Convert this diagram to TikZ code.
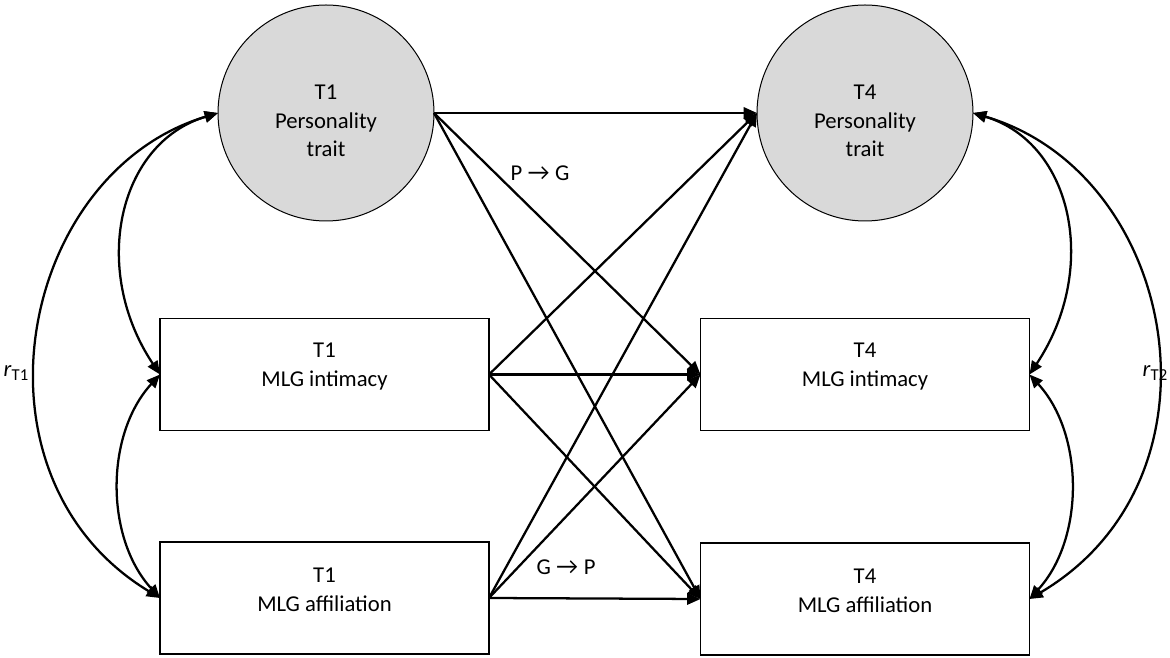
\documentclass[tikz,border=0pt]{standalone}
\usepackage{fontspec}
\setmainfont{Carlito}
\newfontfamily\arrowfont{Lato}
\usetikzlibrary{arrows.meta}

\tikzset{
  trait/.style={circle, draw=black, line width=0.75pt, fill=black!15,
    minimum size=162pt, inner sep=0pt, outer sep=0pt},
  mlgbox/.style={rectangle, draw=black, line width=1.1pt,
    minimum width=246.75pt, minimum height=84pt, inner sep=0pt, outer sep=0pt},
  lbl/.style={align=center, font=\fontsize{17}{21.5}\selectfont, inner sep=0pt},
  path/.style={line width=1.7pt, -{Triangle[length=10pt,width=8.5pt]}},
  cov/.style={line width=1.7pt, {Triangle[length=10pt,width=8.5pt]}-{Triangle[length=10pt,width=8.5pt]}},
}
\newcommand{\arr}{{\arrowfont\fontsize{17}{17}\selectfont\char"2192}}
\newcommand{\rsub}[1]{\textit{r}\raisebox{-3.5pt}{\fontsize{12.5}{12.5}\selectfont #1}}

\begin{document}
\begin{tikzpicture}[x=0.75pt, y=0.75pt]
\useasboundingbox (0,0) rectangle (1170,657);

% latent personality traits
\node[trait] (c1) at (326,544) {};
\node[trait] (c4) at (865,544) {};
\node[lbl] at ([yshift=-6pt]c1.center) {T1\\Personality\\trait};
\node[lbl] at ([yshift=-6pt]c4.center) {T4\\Personality\\trait};

% goal boxes
\node[mlgbox] (b1i) at (324.5,282.5) {};
\node[mlgbox] (b1a) at (324.5,59) {};
\node[mlgbox] (b4i) at (865,282.5) {};
\node[mlgbox] (b4a) at (865,58) {};
\node[lbl] at ([yshift=6pt]b1i.center) {T1\\MLG intimacy};
\node[lbl] at ([yshift=6pt]b1a.center) {T1\\MLG affiliation};
\node[lbl] at ([yshift=6pt]b4i.center) {T4\\MLG intimacy};
\node[lbl] at ([yshift=6pt]b4a.center) {T4\\MLG affiliation};

% cross-lagged paths
\draw[path] (c1.east) -- (c4.west);
\draw[path] (c1.east) -- (b4i.west);
\draw[path] (c1.east) -- (b4a.west);
\draw[path] (b1i.east) -- (c4.west);
\draw[path] (b1i.east) -- (b4i.west);
\draw[path] (b1i.east) -- (b4a.west);
\draw[path] (b1a.east) -- (c4.west);
\draw[path] (b1a.east) -- (b4i.west);
\draw[path] (b1a.east) -- (b4a.west);

\node[lbl] (pg) at (540,484) {P \arr{} G};
\node[lbl] (gp) at (566,90) {G \arr{} P};

% covariances at T1
\draw[cov] (c1.west) .. controls +(-100,-30) and +(-70,105) .. (b1i.west);
\draw[cov] (c1.west) .. controls +(-200,-60) and +(-200,121) .. (b1a.west);
\draw[cov] (b1i.west) .. controls +(-55,-60) and +(-55,60) .. (b1a.west);

% covariances at T4
\draw[cov] (c4.east) .. controls +(100,-30) and +(70,105) .. (b4i.east);
\draw[cov] (c4.east) .. controls +(205,-60) and +(205,121) .. (b4a.east);
\draw[cov] (b4i.east) .. controls +(55,-60) and +(55,60) .. (b4a.east);

\node[lbl] (r1) at (16,284) {\rsub{T1}};
\node[lbl] (r2) at (1155,284) {\rsub{T2}};
\end{tikzpicture}
\end{document}
